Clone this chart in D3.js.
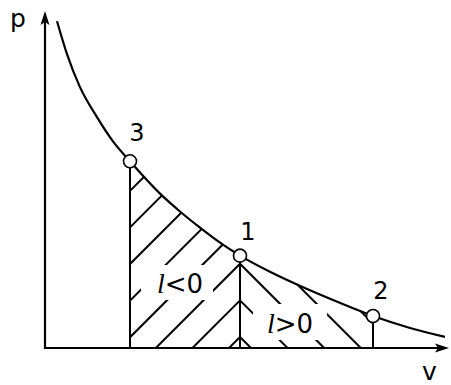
<!DOCTYPE html>
<html>
<head>
<meta charset="utf-8">
<script src="https://cdn.jsdelivr.net/npm/d3@7"></script>
<style>
  body { margin: 0; background: #fff; }
  svg { display: block; }
</style>
</head>
<body>
<div class="vis"></div>
<script>
const w = 451;
const h = 385;

// isotherm p(v) (arbitrary units 0..100)
const curveV = [2.97, 5.45, 8.66, 12.87, 16.83, 21.04, 28.47, 33.42, 38.37, 43.32, 48.27, 55.69, 63.61, 70.54, 81.19, 90.35, 99.0];
const curveP = [97.0, 87.2, 77.4, 68.5, 61.3, 55.4, 45.8, 40.5, 35.7, 31.25, 27.4, 22.6, 18.15, 14.6, 9.5, 5.95, 3.3];

// state points on the isotherm
const stateNames = ["3", "1", "2"];
const stateV = [21.04, 48.27, 81.19];
const stateP = [55.4, 27.4, 9.5];

// work regions: compression (3 -> 1) and expansion (1 -> 2)
const workNames = ["<0", ">0"];

const svg = d3
  .select(".vis")
  .append("svg")
  .attr("width", w)
  .attr("height", h);

const x = d3.scaleLinear().domain([0, 100]).range([45, 449]);
const y = d3.scaleLinear().domain([0, 100]).range([348, 11]);

const curveData = curveV.map((v, i) => ({ v: v, p: curveP[i] }));
const states = stateNames.map((n, i) => ({ name: n, v: stateV[i], p: stateP[i] }));
const s3 = states[0], s1 = states[1], s2 = states[2];

const defs = svg.append("defs");

// area under the isotherm
defs
  .append("clipPath")
  .attr("id", "under")
  .append("path")
  .attr(
    "d",
    d3
      .area()
      .x((d) => x(d.v))
      .y0(y(0))
      .y1((d) => y(d.p))
      .curve(d3.curveMonotoneX)(curveData)
  );

const bands = [
  { id: "bandL", from: s3.v, to: s1.v, dir: -1 },
  { id: "bandR", from: s1.v, to: s2.v, dir: 1 },
];
bands.forEach((b) => {
  defs
    .append("clipPath")
    .attr("id", b.id)
    .append("rect")
    .attr("x", x(b.from))
    .attr("y", 0)
    .attr("width", x(b.to) - x(b.from))
    .attr("height", y(0));
});

//hatching, mirrored about the vertical through state 1
const step = 36.6;
const hatchY = d3.range(10).map((k) => y(0) - 11 - k * step);
const x1 = x(s1.v);

bands.forEach((b) => {
  svg
    .append("g")
    .attr("clip-path", `url(#${b.id})`)
    .append("g")
    .attr("clip-path", "url(#under)")
    .selectAll("line")
    .data(hatchY)
    .enter()
    .append("line")
    .attr("x1", x1)
    .attr("y1", (d) => d)
    .attr("x2", x1 + b.dir * 200)
    .attr("y2", (d) => d + 200)
    .attr("stroke", "black")
    .attr("stroke-width", 2);
});

// isotherm
svg
  .append("path")
  .datum(curveData)
  .attr("fill", "none")
  .attr("stroke", "black")
  .attr("stroke-width", 2.2)
  .attr(
    "d",
    d3
      .line()
      .x((d) => x(d.v))
      .y((d) => y(d.p))
      .curve(d3.curveMonotoneX)
  );

// verticals down to the v axis
svg
  .selectAll(".drop")
  .data(states)
  .enter()
  .append("line")
  .attr("class", "drop")
  .attr("x1", (d) => x(d.v))
  .attr("x2", (d) => x(d.v))
  .attr("y1", (d) => y(d.p))
  .attr("y2", y(0))
  .attr("stroke", "black")
  .attr("stroke-width", 2);

// axes
svg
  .append("line")
  .attr("x1", x(0))
  .attr("y1", y(0))
  .attr("x2", x(100) - 8)
  .attr("y2", y(0))
  .attr("stroke", "black")
  .attr("stroke-width", 2.2);
svg
  .append("line")
  .attr("x1", x(0))
  .attr("y1", y(0) + 1)
  .attr("x2", x(0))
  .attr("y2", y(100) + 8)
  .attr("stroke", "black")
  .attr("stroke-width", 2.2);

const arrow = "M0,0 L-14,-4.5 L-11,0 L-14,4.5 Z";
svg
  .append("path")
  .attr("d", arrow)
  .attr("transform", `translate(${x(100)},${y(0)})`)
  .attr("fill", "black");
svg
  .append("path")
  .attr("d", arrow)
  .attr("transform", `translate(${x(0)},${y(100)}) rotate(-90)`)
  .attr("fill", "black");

// state circles
svg
  .selectAll(".state")
  .data(states)
  .enter()
  .append("circle")
  .attr("class", "state")
  .attr("cx", (d) => x(d.v))
  .attr("cy", (d) => y(d.p))
  .attr("r", 6.5)
  .attr("fill", "white")
  .attr("stroke", "black")
  .attr("stroke-width", 1.6);

const labelOffset = { "3": [7, -20], "1": [8, -16], "2": [8, -17] };
svg
  .selectAll(".state-label")
  .data(states)
  .enter()
  .append("text")
  .attr("class", "state-label")
  .attr("x", (d) => x(d.v) + labelOffset[d.name][0])
  .attr("y", (d) => y(d.p) + labelOffset[d.name][1])
  .attr("text-anchor", "middle")
  .attr("font-family", "DejaVu Sans")
  .attr("font-size", "24px")
  .text((d) => d.name);

// work labels with a white gap cut out of the hatching
const workPos = [
  { tx: 157, ty: 293, box: [-16, -28, 72, 35] },
  { tx: 267, ty: 333, box: [-14, -29, 74, 36] },
];
workNames.forEach((name, i) => {
  const p = workPos[i];
  svg
    .append("rect")
    .attr("x", p.tx + p.box[0])
    .attr("y", p.ty + p.box[1])
    .attr("width", p.box[2])
    .attr("height", p.box[3])
    .attr("fill", "white");
  const t = svg
    .append("text")
    .attr("x", p.tx)
    .attr("y", p.ty)
    .attr("font-family", "DejaVu Sans")
    .attr("font-size", "26px");
  t.append("tspan")
    .attr("font-family", "Liberation Serif")
    .attr("font-style", "italic")
    .attr("font-size", "28px")
    .text("l");
  t.append("tspan").text(name);
});

// axis names
svg
  .append("text")
  .attr("x", 10)
  .attr("y", 27)
  .attr("font-family", "DejaVu Sans")
  .attr("font-size", "25px")
  .text("p");
svg
  .append("text")
  .attr("x", 422)
  .attr("y", 380)
  .attr("font-family", "DejaVu Sans")
  .attr("font-size", "25px")
  .text("v");
</script>
</body>
</html>
